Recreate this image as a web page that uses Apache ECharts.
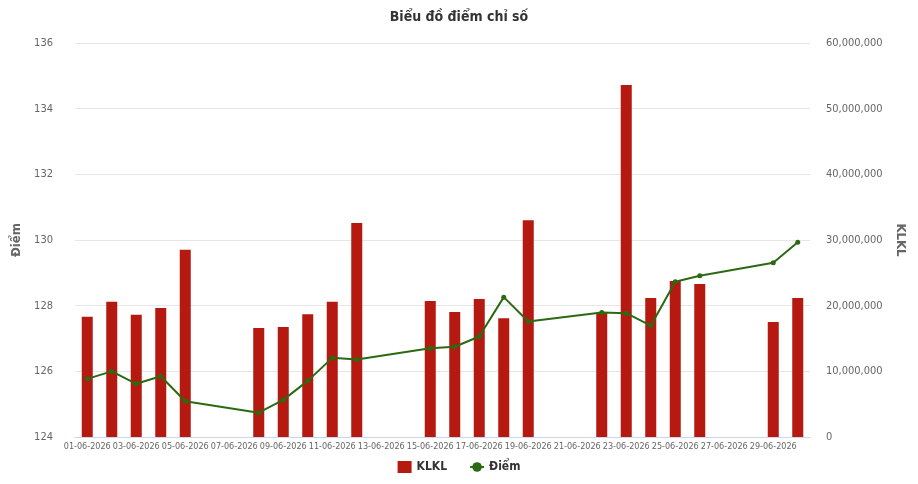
<!DOCTYPE html>
<html>
<head>
<meta charset="utf-8">
<script src="https://cdn.jsdelivr.net/npm/echarts@6/dist/echarts.min.js"></script>
<style>
  html, body { margin: 0; padding: 0; background: #fff; }
  #main { width: 918px; height: 484px; }
</style>
</head>
<body>
<div id="main"></div>
<script>
// ngày giao dịch trong tháng 6
var ngay = [
  '01-06-2026', '02-06-2026', '03-06-2026', '04-06-2026', '05-06-2026',
  '06-06-2026', '07-06-2026', '08-06-2026', '09-06-2026', '10-06-2026',
  '11-06-2026', '12-06-2026', '13-06-2026', '14-06-2026', '15-06-2026',
  '16-06-2026', '17-06-2026', '18-06-2026', '19-06-2026', '20-06-2026',
  '21-06-2026', '22-06-2026', '23-06-2026', '24-06-2026', '25-06-2026',
  '26-06-2026', '27-06-2026', '28-06-2026', '29-06-2026', '30-06-2026'
];

// khối lượng khớp lệnh (null = ngày nghỉ)
var klkl = [
  18300000, 20600000, 18600000, 19650000, 28500000,
  null, null, 16600000, 16750000, 18700000,
  20600000, 32600000, null, null, 20700000,
  19050000, 21000000, 18100000, 33000000, null,
  null, 19050000, 53600000, 21150000, 23750000,
  23300000, null, null, 17500000, 21150000
];

// điểm chỉ số
var diem = [
  125.77, 126.00, 125.62, 125.85, 125.09,
  null, null, 124.74, 125.13, 125.71,
  126.41, 126.36, null, null, 126.70,
  126.75, 127.06, 128.26, 127.52, null,
  null, 127.79, 127.77, 127.39, 128.73,
  128.91, null, null, 129.31, 129.93
];

var fontName = '"DejaVu Sans Condensed", "Liberation Sans Narrow", sans-serif';
var myChart = echarts.init(document.getElementById('main'));

var option = {
    animation: false,
    title: {
        text: 'Biểu đồ điểm chỉ số',
        left: 'center',
        top: 5,
        textStyle: { fontFamily: fontName, fontSize: 14, fontWeight: 'bold', color: '#333' }
    },
    legend: {
        bottom: 6,
        left: 'center',
        itemGap: 22,
        itemWidth: 14,
        itemHeight: 12,
        textStyle: { fontFamily: fontName, fontSize: 12, fontWeight: 'bold', color: '#333' },
        data: [
            { name: 'KLKL', icon: 'rect' },
            { name: 'Điểm' }
        ]
    },
    grid: { left: 75, right: 108, top: 43, bottom: 47 },
    xAxis: {
        type: 'category',
        data: ngay,
        boundaryGap: true,
        axisLine: { lineStyle: { color: '#ccd6eb' } },
        axisTick: { alignWithLabel: true, interval: 1, length: 6, lineStyle: { color: '#ccd6eb' } },
        axisLabel: {
            interval: 1,
            margin: 5,
            showMinLabel: true,
            hideOverlap: false,
            fontFamily: fontName,
            fontSize: 9,
            color: '#666'
        }
    },
    yAxis: [
        {
            type: 'value',
            name: 'Điểm',
            nameLocation: 'middle',
            nameGap: 42,
            nameTextStyle: { fontFamily: fontName, fontSize: 13, fontWeight: 'bold', color: '#666' },
            min: 124,
            max: 136,
            interval: 2,
            axisLine: { show: false },
            axisTick: { show: false },
            axisLabel: { margin: 22, fontFamily: fontName, fontSize: 11, color: '#666' },
            splitLine: { lineStyle: { color: '#e6e6e6' } }
        },
        {
            type: 'value',
            name: 'KLKL',
            nameLocation: 'middle',
            nameRotate: -90,
            nameGap: 74,
            nameTextStyle: { fontFamily: fontName, fontSize: 13, fontWeight: 'bold', color: '#666' },
            min: 0,
            max: 60000000,
            interval: 10000000,
            axisLine: { show: false },
            axisTick: { show: false },
            splitLine: { show: false },
            axisLabel: {
                margin: 16,
                fontFamily: fontName,
                fontSize: 11,
                color: '#666',
                formatter: function (v) { return v.toLocaleString('en-US'); }
            }
        }
    ],
    series: [
        {
            name: 'KLKL',
            type: 'bar',
            yAxisIndex: 1,
            barWidth: 11,
            itemStyle: { color: '#b5190f' },
            data: klkl
        },
        {
            name: 'Điểm',
            type: 'line',
            yAxisIndex: 0,
            connectNulls: true,
            symbol: 'circle',
            symbolSize: 5,
            lineStyle: { width: 2, color: '#2b6a12' },
            itemStyle: { color: '#2b6a12' },
            data: diem
        }
    ]
};

myChart.setOption(option);
</script>
</body>
</html>
